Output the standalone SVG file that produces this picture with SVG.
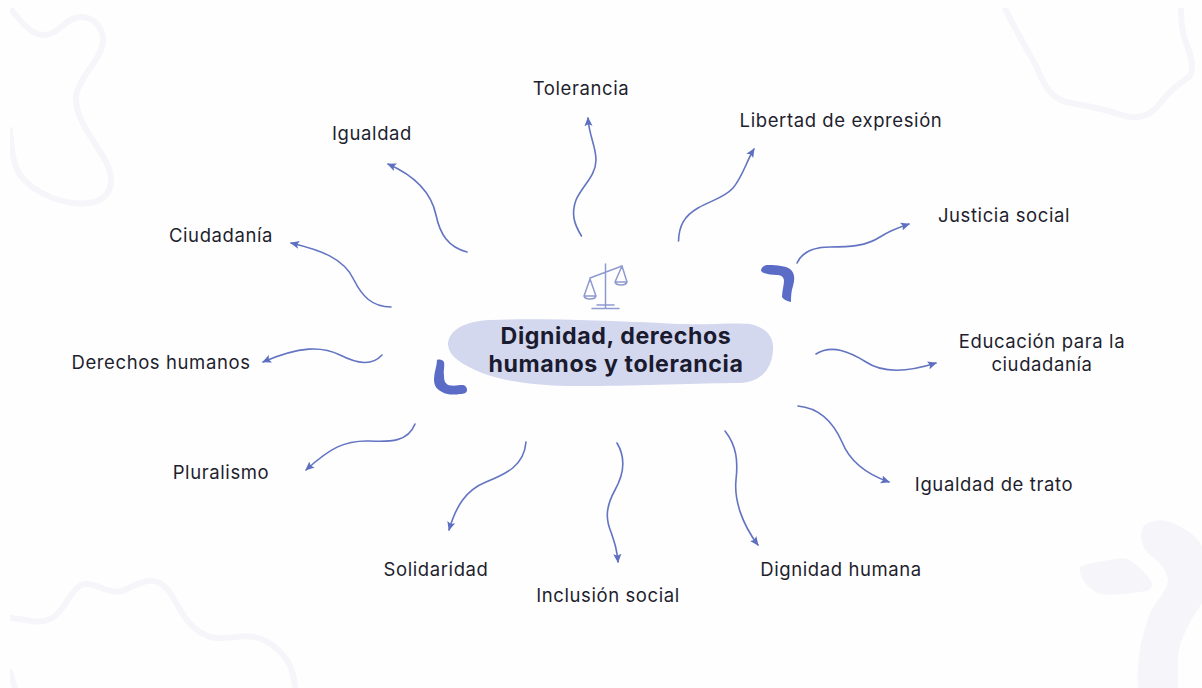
<svg xmlns="http://www.w3.org/2000/svg" width="1202" height="688" viewBox="0 0 1202 688">
<defs>
<marker id="arrow" viewBox="0 0 10 10" refX="9" refY="5" markerWidth="9" markerHeight="9" markerUnits="userSpaceOnUse" orient="auto"><path d="M0 0.5L10 5L0 9.5L2 5Z" fill="#5d6fc0"/></marker>
<clipPath id="frame"><rect x="10" y="8" width="1192" height="680"/></clipPath>
</defs>
<style>
.deco{fill:none;stroke:#f6f6fa;stroke-width:6;stroke-linecap:round;stroke-linejoin:round}
.decofill{fill:#f6f6fa}
.conn{fill:none;stroke:#6274c2;stroke-width:1.6;stroke-linecap:round;marker-end:url(#arrow)}
.label{font-family:Inter,"Liberation Sans",sans-serif;font-size:18.5px;letter-spacing:0.6px;fill:#1e1e2e;text-anchor:middle}
.title{font-family:Inter,"Liberation Sans",sans-serif;font-size:23.2px;letter-spacing:0.6px;font-weight:700;fill:#1b1b30;text-anchor:middle}
.thick{fill:#5a6cc6}
.scale{fill:none;stroke:#8f9ad0;stroke-width:1.5;stroke-linecap:round;stroke-linejoin:round}
</style>
<rect width="1202" height="688" fill="#fefefe"/>
<g id="background" clip-path="url(#frame)">
<path class="deco" d="M10 8C20 20 30 35 44 35C58 35 65 18 80 17C95 16 103 30 103 40C102 60 80 75 76 95C74 115 90 135 102 155C115 175 115 195 95 202C70 208 35 195 20 175C12 162 11 145 10 130"/>
<path class="deco" d="M1005 8C1015 30 1028 50 1036 66C1045 88 1052 98 1066 102C1085 106 1102 108 1118 114C1135 120 1148 118 1158 106C1168 92 1178 84 1190 76C1195 66 1190 52 1185 40C1181 28 1181 18 1181 8"/>
<path class="deco" d="M10 618C25 618 38 626 52 618C66 610 72 585 85 584C100 584 110 596 125 590C140 582 155 574 168 590C180 606 185 628 210 637C230 642 250 628 272 645C290 658 294 672 295 688"/>
<path class="deco" d="M10 672L15 688"/>
<path class="decofill" d="M1141 535C1141 522 1155 518 1170 522C1185 527 1202 540 1202 548L1202 603C1190 622 1178 640 1178 660L1178 688L1138 688C1136 665 1140 640 1150 613C1156 600 1168 590 1168 580C1166 570 1158 560 1150 555C1145 550 1141 545 1141 535Z"/>
<path class="decofill" d="M1080 567C1090 562 1110 560 1123 558C1132 558 1148 575 1152 583C1152 590 1148 591 1140 592C1125 594 1110 596 1100 594C1090 590 1078 578 1080 567Z"/>
</g>
<g id="connectors">
<path class="conn" d="M581.5 236C574 224 571 214 576 200C582 186 596 176 596 160C596 146 589 136 588 118"/>
<path class="conn" d="M678.5 241C679 226 684 216 698 208C712 200 724 198 733 188C743 176 746 162 754 149"/>
<path class="conn" d="M797 263C802 252 812 247 830 247C850 247 866 246 880 237C889 231 897 228 909 224"/>
<path class="conn" d="M816 354C832 344 850 352 866 362C884 374 908 372 936 363"/>
<path class="conn" d="M798 406C820 408 834 424 842 442C850 462 866 474 889 482"/>
<path class="conn" d="M725 431C737 446 738 462 736 480C734 500 742 524 758 545"/>
<path class="conn" d="M617 443C626 458 624 474 615 490C605 508 606 520 611 532C615 544 617 550 618 562"/>
<path class="conn" d="M526 442C524 466 506 474 486 482C466 490 456 506 449 530"/>
<path class="conn" d="M415 424C408 442 390 442 370 441C345 440 330 448 306 470"/>
<path class="conn" d="M382 355C372 366 358 364 340 355C322 346 300 346 263 362"/>
<path class="conn" d="M391 307C372 307 362 296 354 280C344 258 320 250 291 243"/>
<path class="conn" d="M467 252C448 247 440 234 436 215C432 196 420 178 388 164"/>
</g>
<g id="accents">
<path class="thick" d="M761 270C762 266 765 265 769 265C777 265 786 266 790 269C795 273 795 279 793 286C791 292 791 297 791 302C787 301 784 300 782 297C782 291 784 285 784 281C784 277 781 275 777 275C772 275 767 274 764 273C762 272.500 761 271 761 270Z"/>
<path class="thick" d="M437 360C440 359 443 360 444 362C445 366 443 371 444 376C444 382 446 385 451 385.500C455 386 459 385 462 385C465 385 467 387 467 390C467 393 464 394 460 394C454 395 447 395 442 392C436 389 434 385 434 379C434 372 437 366 437 360Z"/>
</g>
<g id="center">
<path d="M448 345C448 330 465 321 490 320C540 318 610 321 660 323C700 326 730 322 750 324C768 328 774 338 773 350C772 368 762 382 740 383C700 383 640 386 590 386C540 387 500 382 475 370C458 362 449 355 448 345Z" fill="#d3d8ef"/>
<g id="scales">
<path class="scale" d="M605.5 264V308M592 308.5H619M597 305H614M590 278L622 266"/>
<path class="scale" d="M590 279L584 296M590 279L596 296M584 296H596C595 300 585 300 584 296Z"/>
<path class="scale" d="M622 266L615 282M622 266L627 282M615 282H627C626 286 616 286 615 282Z"/>
</g>
<text class="title" x="616" y="344">Dignidad, derechos</text>
<text class="title" x="616" y="372">humanos y tolerancia</text>
</g>
<g id="n-tolerancia"><text class="label" x="581" y="95">Tolerancia</text></g>
<g id="n-libertad"><text class="label" x="841" y="127">Libertad de expresión</text></g>
<g id="n-justicia"><text class="label" x="1004" y="222">Justicia social</text></g>
<g id="n-educacion"><text class="label" x="1042" y="348">Educación para la</text><text class="label" x="1042" y="371">ciudadanía</text></g>
<g id="n-trato"><text class="label" x="994" y="491">Igualdad de trato</text></g>
<g id="n-dignidad"><text class="label" x="841" y="576">Dignidad humana</text></g>
<g id="n-inclusion"><text class="label" x="608" y="602">Inclusión social</text></g>
<g id="n-solidaridad"><text class="label" x="436" y="576">Solidaridad</text></g>
<g id="n-pluralismo"><text class="label" x="221" y="479">Pluralismo</text></g>
<g id="n-derechos"><text class="label" x="161" y="369">Derechos humanos</text></g>
<g id="n-ciudadania"><text class="label" x="221" y="242">Ciudadanía</text></g>
<g id="n-igualdad"><text class="label" x="372" y="140">Igualdad</text></g>
</svg>
